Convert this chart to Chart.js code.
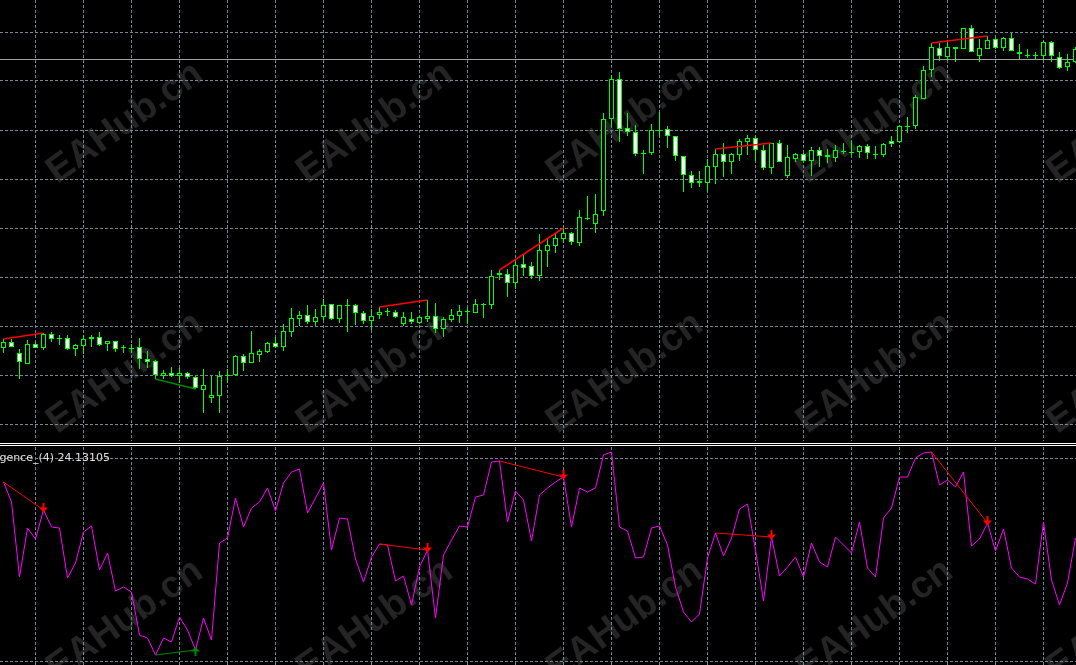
<!DOCTYPE html>
<html>
<head>
<meta charset="utf-8">
<title>Divergence chart</title>
<script src="https://cdn.jsdelivr.net/npm/chart.js@4.4.1/dist/chart.umd.min.js"></script>
<style>
  html, body { margin: 0; padding: 0; background: #000; overflow: hidden; }
  #wrap { position: relative; width: 1076px; height: 665px; }
  canvas { position: absolute; left: 0; }
  #priceChart { top: 0; }
  #oscChart { top: 447px; }
  .sep { position: absolute; left: 0; width: 1076px; height: 1px; background: #fff; }
</style>
</head>
<body>
<div id="wrap">
  <canvas id="priceChart" width="1076" height="441"></canvas>
  <div class="sep" style="top:443px"></div>
  <div class="sep" style="top:445px"></div>
  <canvas id="oscChart" width="1076" height="218"></canvas>
</div>
<script>
// candles, oldest first (price in chart points)
const opens = [
  93, 99, 88, 77, 97, 93, 107, 103, 103, 92,
  95, 102, 104, 97, 100, 94, 93, 94, 82, 80,
  65, 68, 65, 68, 64, 51, 43, 45, 66, 66,
  85, 78, 86, 89, 98, 94, 109, 122, 126, 119,
  124, 137, 122, 136, 136, 128, 120, 126, 130, 129,
  117, 122, 118, 122, 125, 112, 121, 125, 130, 128,
  137, 136, 166, 167, 158, 177, 175, 165, 190, 195,
  202, 208, 198, 223, 217, 230, 322, 362, 313, 309,
  288, 288, 311, 312, 305, 285, 266, 260, 258, 274,
  287, 279, 286, 299, 303, 291, 273, 298, 265, 282,
  287, 280, 291, 286, 283, 290, 289, 289, 295, 287,
  286, 300, 299, 315, 315, 342, 371, 393, 384, 394,
  392, 413, 385, 392, 402, 393, 403, 389, 386, 386,
  385, 399, 384, 374, 379
];
const highs = [
  102, 102, 92, 101, 99, 108, 109, 106, 106, 97,
  106, 106, 109, 100, 100, 96, 97, 103, 90, 81,
  71, 74, 73, 69, 65, 72, 65, 70, 72, 86,
  87, 110, 92, 99, 104, 117, 133, 130, 136, 132,
  142, 137, 136, 142, 137, 130, 132, 134, 133, 131,
  129, 129, 125, 141, 138, 124, 132, 136, 133, 142,
  138, 171, 171, 172, 180, 187, 179, 207, 202, 207,
  213, 209, 231, 245, 247, 328, 366, 369, 328, 316,
  291, 317, 329, 315, 305, 285, 270, 270, 282, 292,
  298, 288, 302, 306, 306, 296, 298, 301, 296, 288,
  288, 294, 294, 292, 296, 298, 300, 296, 297, 295,
  298, 305, 316, 324, 346, 375, 398, 398, 398, 394,
  413, 416, 402, 405, 403, 404, 408, 397, 392, 389,
  400, 400, 389, 387, 394
];
const lows = [
  88, 94, 62, 77, 93, 91, 99, 96, 91, 85,
  87, 94, 95, 90, 89, 88, 88, 72, 73, 62,
  62, 64, 58, 62, 52, 28, 38, 28, 58, 65,
  70, 78, 79, 88, 93, 90, 104, 115, 117, 115,
  121, 121, 118, 109, 116, 117, 111, 122, 125, 123,
  115, 117, 117, 119, 108, 104, 119, 118, 117, 128,
  123, 132, 161, 144, 152, 165, 162, 160, 174, 188,
  198, 196, 195, 221, 208, 225, 314, 299, 305, 285,
  267, 286, 304, 293, 280, 249, 253, 254, 250, 257,
  264, 267, 280, 286, 280, 271, 267, 279, 263, 279,
  279, 265, 274, 278, 279, 287, 286, 283, 282, 282,
  284, 294, 298, 308, 312, 342, 364, 380, 381, 379,
  392, 389, 379, 392, 392, 390, 390, 382, 383, 381,
  382, 379, 372, 370, 378
];
const closes = [
  99, 94, 79, 97, 93, 107, 102, 103, 92, 96,
  102, 104, 96, 100, 92, 94, 93, 82, 79, 66,
  68, 65, 68, 64, 53, 56, 46, 65, 66, 85,
  78, 88, 90, 98, 94, 110, 123, 126, 119, 124,
  136, 122, 136, 136, 128, 120, 125, 129, 130, 124,
  124, 119, 124, 125, 112, 122, 126, 130, 130, 137,
  137, 165, 168, 158, 176, 173, 165, 191, 196, 203,
  208, 199, 224, 223, 227, 322, 362, 312, 309, 287,
  288, 311, 311, 305, 285, 266, 258, 258, 275, 287,
  279, 287, 300, 303, 291, 273, 298, 279, 284, 287,
  280, 291, 285, 284, 291, 290, 289, 295, 288, 287,
  297, 297, 315, 315, 344, 371, 394, 385, 394, 392,
  413, 389, 393, 401, 393, 403, 390, 387, 386, 386,
  399, 385, 373, 379, 392
];

// divergence oscillator, one value per candle
const oscValues = [
  183, 163, 88, 137, 126, 155, 138, 137, 87, 102,
  133, 139, 95, 112, 74, 78, 73, 30, 27, 10,
  27, 23, 48, 35, 15, 47, 25, 122, 127, 167,
  138, 157, 163, 177, 154, 182, 193, 196, 152, 167,
  182, 115, 147, 146, 106, 83, 108, 121, 120, 84,
  89, 60, 98, 115, 47, 110, 125, 139, 138, 168,
  170, 203, 204, 143, 174, 165, 124, 170, 177, 183,
  188, 138, 177, 173, 177, 210, 213, 138, 134, 107,
  108, 137, 139, 120, 78, 53, 43, 51, 107, 132,
  109, 127, 156, 161, 115, 64, 128, 89, 98, 108,
  88, 122, 103, 98, 128, 120, 112, 143, 97, 88,
  147, 157, 188, 188, 207, 212, 213, 180, 185, 178,
  193, 119, 126, 142, 114, 136, 97, 88, 86, 81,
  143, 85, 60, 82, 127
];

// divergences found by the indicator: [first bar, last bar]
const bearishDivs = [[0, 5], [47, 53], [62, 70], [89, 96], [116, 123]];
const bullishDivs = [[19, 24]];

const levelPrice = 381.5;
const indicatorLabel = 'Divergence_(4) 24.13105';

// grid positions
const gridBars = [4, 10, 16, 22, 28, 34, 40, 46, 52, 58, 64, 70, 76, 82, 88, 94, 100, 106, 112, 118, 124, 130];
const priceGrid = [409, 360, 311, 262, 213, 164, 115, 66, 17];
const oscGrid = [207, 4];

const X_MIN = -0.4375, X_MAX = 134.0625;
const candleGreen = '#00ff00';
const gridColor = '#778899';

const idx = closes.map((_, i) => i);

function bodyRange(i) {
  // doji -> one pixel line like MT4
  return opens[i] === closes[i] ? [closes[i] - 1, closes[i]] : [opens[i], closes[i]];
}

function bodyFill(i) {
  if (opens[i] === closes[i]) return candleGreen;
  return closes[i] < opens[i] ? '#ffffff' : '#000000';
}

function makeArrow(color, up) {
  const c = document.createElement('canvas');
  c.width = 11; c.height = 20;
  const g = c.getContext('2d');
  g.fillStyle = color;
  g.beginPath();
  if (up) {
    g.moveTo(5.5, 7); g.lineTo(10, 11.5); g.lineTo(1, 11.5);
    g.closePath(); g.fill();
    g.fillRect(4.5, 11, 2, 5);
  } else {
    g.fillRect(4.5, 3, 2, 5);
    g.moveTo(1, 7.5); g.lineTo(10, 7.5); g.lineTo(5.5, 12.5);
    g.closePath(); g.fill();
  }
  return c;
}

function watermark(rows) {
  return {
    id: 'watermark',
    beforeDraw(chart) {
      const ctx = chart.ctx;
      ctx.save();
      ctx.fillStyle = '#242424';
      ctx.font = 'bold 38px "Liberation Sans", Arial, sans-serif';
      ctx.textAlign = 'center';
      ctx.textBaseline = 'middle';
      rows.forEach(y => {
        [125, 375, 625, 875, 1125].forEach(x => {
          ctx.save();
          ctx.translate(x, y);
          ctx.rotate(-0.62);
          ctx.fillText('EAHub.cn', 0, 0);
          ctx.restore();
        });
      });
      ctx.restore();
    }
  };
}

function xAxis() {
  return {
    type: 'linear', min: X_MIN, max: X_MAX, offset: false,
    ticks: { display: false },
    grid: { color: gridColor, drawTicks: false, offset: false },
    border: { display: false, dash: [3, 2] },
    afterBuildTicks: axis => { axis.ticks = gridBars.map(v => ({ value: v })); }
  };
}

function yAxis(min, max, ticks) {
  return {
    type: 'linear', min: min, max: max,
    ticks: { display: false },
    grid: { color: gridColor, drawTicks: false },
    border: { display: false, dash: [3, 2] },
    afterBuildTicks: axis => { axis.ticks = ticks.map(v => ({ value: v })); }
  };
}

const commonOptions = {
  responsive: false,
  devicePixelRatio: 1,
  animation: false,
  events: [],
  layout: { padding: 0, autoPadding: false },
  plugins: { legend: { display: false }, tooltip: { enabled: false } }
};

// ---- price panel ----
const priceLines = bearishDivs.map(([a, b]) => ({
  type: 'line',
  data: [{ x: a, y: highs[a] }, { x: b, y: highs[b] }],
  borderColor: '#ff0000', borderWidth: 1.5, pointRadius: 0, order: 0
})).concat(bullishDivs.map(([a, b]) => ({
  type: 'line',
  data: [{ x: a, y: lows[a] }, { x: b, y: lows[b] }],
  borderColor: '#008800', borderWidth: 1.5, pointRadius: 0, order: 0
})));

new Chart(document.getElementById('priceChart'), {
  type: 'bar',
  data: {
    datasets: [
      {
        type: 'line',
        data: [{ x: X_MIN, y: levelPrice }, { x: X_MAX, y: levelPrice }],
        borderColor: '#a0a0a0', borderWidth: 1, pointRadius: 0, order: 4
      },
      {
        data: idx.map(i => ({ x: i, y: [lows[i], highs[i]] })),
        backgroundColor: candleGreen,
        borderWidth: 0,
        barThickness: 1, maxBarThickness: 1,
        grouped: false, inflateAmount: 0, order: 3
      },
      {
        data: idx.map(i => ({ x: i, y: bodyRange(i) })),
        backgroundColor: idx.map(bodyFill),
        borderColor: candleGreen, borderWidth: 1, borderSkipped: false,
        barThickness: 5, maxBarThickness: 5,
        grouped: false, inflateAmount: 0, order: 2
      }
    ].concat(priceLines)
  },
  options: Object.assign({}, commonOptions, {
    scales: { x: xAxis(), y: yAxis(0, 441, priceGrid) }
  }),
  plugins: [watermark([123, 373])]
});

// ---- oscillator panel ----
const arrowDown = makeArrow('#ff0000', false);
const arrowUp = makeArrow('#008800', true);

const oscLines = bearishDivs.map(([a, b]) => ({
  data: [{ x: a, y: oscValues[a] }, { x: b, y: oscValues[b] }],
  borderColor: '#ff0000', borderWidth: 1, pointRadius: 0, order: 1
})).concat(bullishDivs.map(([a, b]) => ({
  data: [{ x: a, y: oscValues[a] }, { x: b, y: oscValues[b] }],
  borderColor: '#008800', borderWidth: 1, pointRadius: 0, order: 1
})));

new Chart(document.getElementById('oscChart'), {
  type: 'line',
  data: {
    datasets: [
      {
        data: idx.map(i => ({ x: i, y: oscValues[i] })),
        borderColor: '#ff00ff', borderWidth: 1, pointRadius: 0, tension: 0, order: 2
      },
      {
        data: bearishDivs.map(([, b]) => ({ x: b, y: oscValues[b] })),
        showLine: false, pointStyle: arrowDown, pointRadius: 5, order: 0
      },
      {
        data: bullishDivs.map(([, b]) => ({ x: b, y: oscValues[b] })),
        showLine: false, pointStyle: arrowUp, pointRadius: 5, order: 0
      }
    ].concat(oscLines)
  },
  options: Object.assign({}, commonOptions, {
    scales: { x: xAxis(), y: yAxis(0, 218, oscGrid) }
  }),
  plugins: [watermark([173]), {
    id: 'label',
    afterDraw(chart) {
      const ctx = chart.ctx;
      ctx.save();
      ctx.font = '11px "DejaVu Sans", sans-serif';
      ctx.fillStyle = '#e0e0e0';
      ctx.textAlign = 'right';
      ctx.fillText(indicatorLabel, 110, 14);
      ctx.restore();
    }
  }]
});
</script>
</body>
</html>
